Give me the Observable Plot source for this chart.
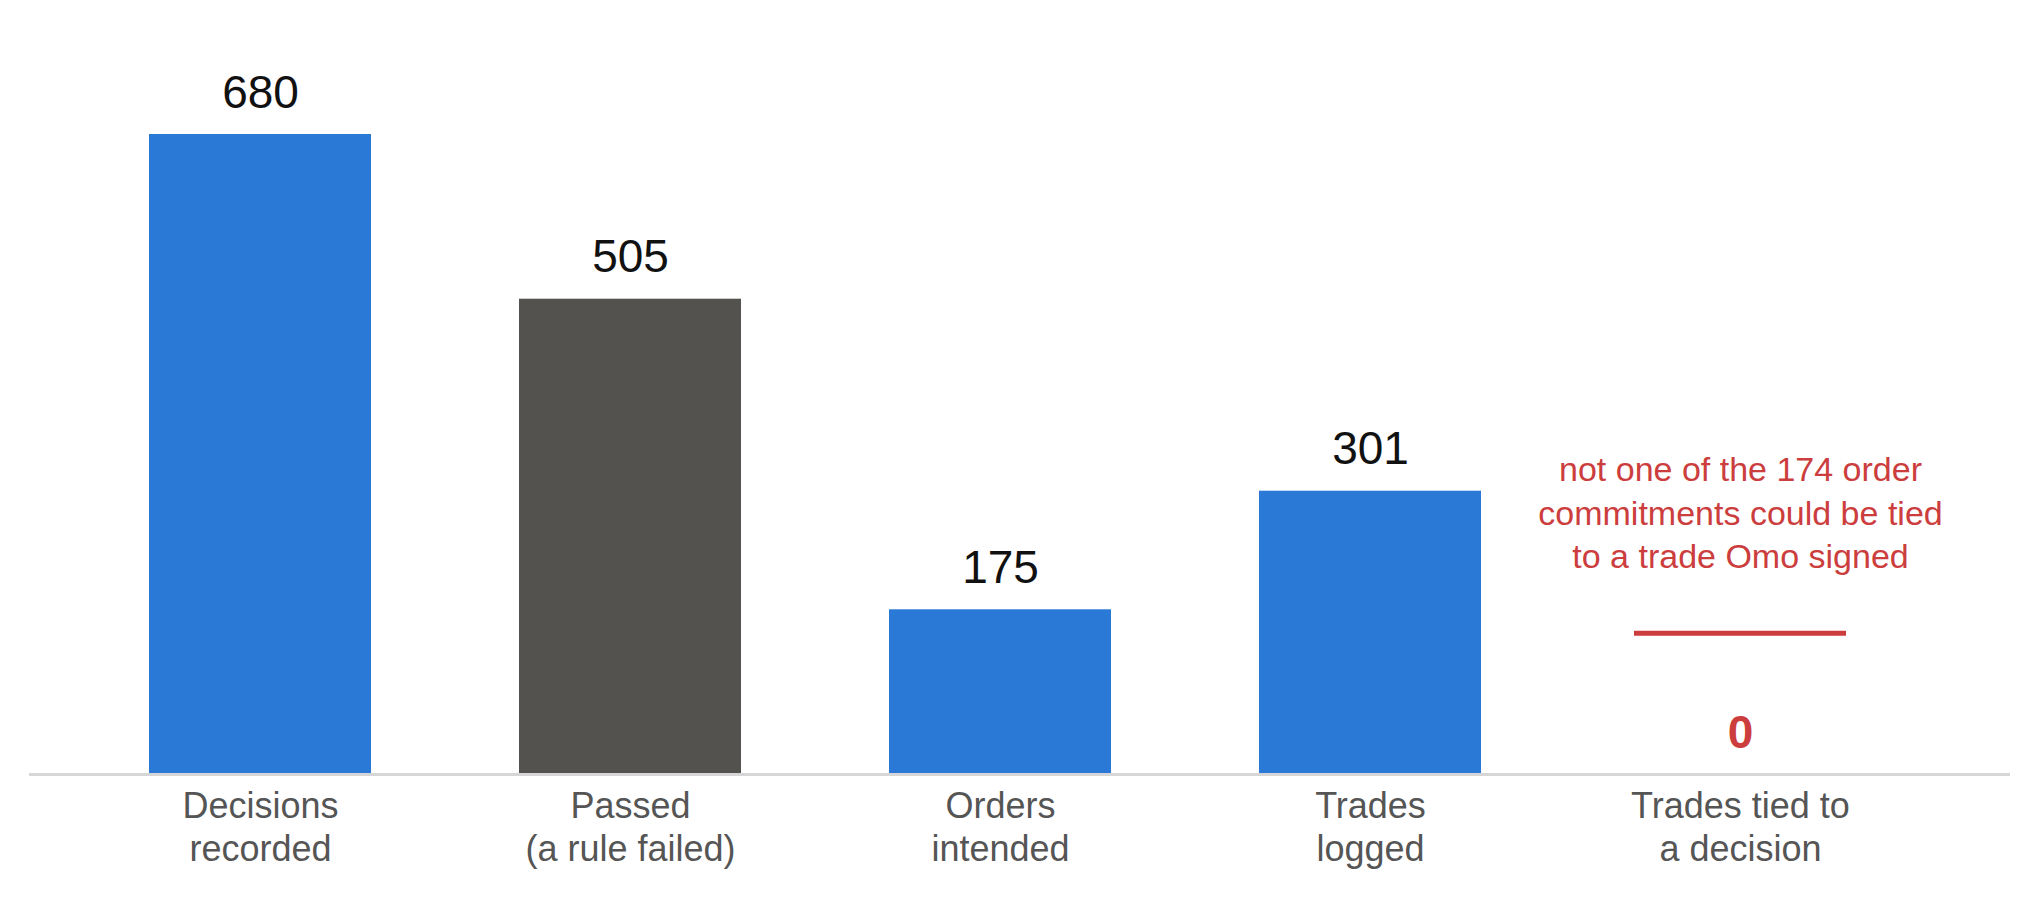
<!DOCTYPE html>
<html>
<head>
<meta charset="utf-8">
<script src="https://cdn.jsdelivr.net/npm/d3@7"></script>
<script src="https://cdn.jsdelivr.net/npm/@observablehq/plot@0.6"></script>
<style>
  html, body { margin: 0; padding: 0; background: #ffffff; }
  #chart svg { display: block; }
</style>
</head>
<body>
<div id="chart"></div>
<script>
// ---- data ----
const categories = [
  "Decisions\nrecorded",
  "Passed\n(a rule failed)",
  "Orders\nintended",
  "Trades\nlogged",
  "Trades tied to\na decision"
];
const values = [680, 505, 175, 301, 0];
const kinds = ["flow", "failed", "flow", "flow", "flow"];
const noteCategory = "Trades tied to\na decision";
const noteText = "not one of the 174 order\ncommitments could be tied\nto a trade Omo signed";
const noteDividerValue = 150;

const rows = categories.map((c, i) => ({category: c, value: values[i], kind: kinds[i]}));
const note = [{category: noteCategory, value: noteDividerValue, text: noteText}];

const FONT = "'Liberation Sans', Arial, Helvetica, sans-serif";
const RED = "#cc3d3d";

const chart = Plot.plot({
  width: 2040,
  height: 898,
  marginTop: 134,
  marginBottom: 124,
  marginLeft: 29,
  marginRight: 30,
  style: {fontFamily: FONT, background: "#ffffff"},
  x: {domain: categories, paddingInner: 0.4, paddingOuter: 0.371, align: 0.43, axis: null},
  y: {domain: [0, 680], axis: null},
  color: {domain: ["flow", "failed"], range: ["#2a79d6", "#53524e"]},
  marks: [
    Plot.barY(rows, {x: "category", y: "value", fill: "kind"}),
    Plot.ruleY([0], {stroke: "#d6d6d6", strokeWidth: 3}),
    Plot.text(rows.filter(d => d.value > 0), {
      x: "category", y: "value", text: d => String(d.value),
      dy: -27, lineAnchor: "bottom", fontSize: 46, fill: "#111111"
    }),
    Plot.text(rows.filter(d => d.value === 0), {
      x: "category", y: "value", text: d => String(d.value),
      dy: -27, lineAnchor: "bottom", fontSize: 46, fontWeight: "bold", fill: RED
    }),
    Plot.tickY(note, {x: "category", y: "value", stroke: RED, strokeWidth: 5, insetLeft: 5, insetRight: 5}),
    Plot.text(note, {
      x: "category", y: "value", text: "text",
      dy: -65, lineAnchor: "bottom", fontSize: 34, lineHeight: 1.28, fill: RED
    }),
    Plot.axisX({tickSize: 0, tickPadding: 13, fontSize: 36, lineHeight: 1.2, color: "#555555", label: null})
  ]
});
document.getElementById("chart").appendChild(chart);
</script>
</body>
</html>
